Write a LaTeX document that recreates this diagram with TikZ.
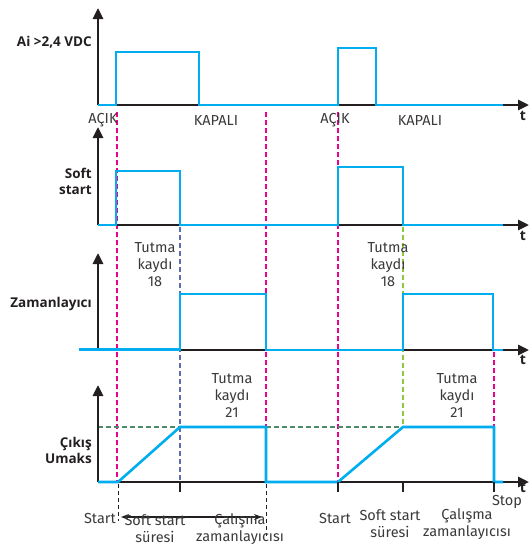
\documentclass[tikz,border=0pt]{standalone}
\usepackage{fontspec}
\setmainfont{Fira Sans}
\newfontfamily\labelfont{Open Sans}
\usetikzlibrary{arrows.meta}
\definecolor{sig}{HTML}{00AEEF}
\definecolor{mag}{HTML}{EC008C}
\definecolor{slate}{HTML}{5B6FB0}
\definecolor{lgreen}{HTML}{8DC63F}
\definecolor{dgreen}{HTML}{4E8A6A}
\definecolor{ink}{HTML}{231F20}
\definecolor{txt}{HTML}{3A3A3A}
\tikzset{
  axis/.style={ink, line width=2.6pt, -{Triangle[length=11pt,width=10pt]}},
  signal/.style={sig, line width=2.6pt, line join=miter},
  magline/.style={mag, line width=1.3pt, dash pattern=on 5pt off 3pt},
  slateline/.style={slate, line width=1.3pt, dash pattern=on 5pt off 3pt},
  lgline/.style={lgreen, line width=1.1pt, dash pattern=on 5pt off 3pt},
  dgline/.style={dgreen, line width=1.2pt, dash pattern=on 5pt off 3pt},
  blkdash/.style={ink, line width=1pt, dash pattern=on 4pt off 3pt},
  tick/.style={ink, line width=1.2pt},
  ylab/.style={anchor=east, font=\labelfont\fontsize{13.5}{16}\selectfont\bfseries, text=ink, align=right, inner sep=0pt},
  tlab/.style={font=\labelfont\fontsize{14}{16}\selectfont\bfseries, text=ink},
  note/.style={font=\fontsize{14.5}{17}\selectfont, text=txt, align=center, inner sep=0pt},
}
\begin{document}
\begin{tikzpicture}[x=1pt,y=-1pt]
\useasboundingbox (0,0) rectangle (530,547);

% guide lines behind the signals
\draw[magline] (117,112) -- (117,482);
\draw[magline] (266,112) -- (266,482);
\draw[magline] (338,112) -- (338,482);
\draw[magline] (494,352) -- (494,482);
\draw[slateline] (180,227) -- (180,482);
\draw[lgline] (403,227) -- (403,427);
\draw[dgline] (98,427) -- (180,427);
\draw[dgline] (266,427) -- (403,427);

% axes
\foreach \b/\top in {105/8, 225/127, 350/253, 482/385}{
  \draw[axis] (98,\b) -- (98,\top);
  \draw[axis] (98,\b) -- (529,\b);
}

% signals
\draw[signal] (98,105) -- (116,105) -- (116,52) -- (199,52) -- (199,105) -- (338,105) -- (338,48) -- (376,48) -- (376,105) -- (503,105);
\draw[signal] (98,225) -- (116,225) -- (116,171) -- (180,171) -- (180,225) -- (338,225) -- (338,167) -- (403,167) -- (403,225) -- (503,225);
\draw[signal] (79,349.5) -- (180,349.5) -- (180,294) -- (266,294) -- (266,350) -- (403,350) -- (403,294) -- (493,294) -- (493,350) -- (503,350);
\draw[signal] (98,482) -- (118,482) -- (180,427) -- (266,427) -- (266,482) -- (338,482) -- (403,427) -- (494,427) -- (494,482) -- (503,482);

% ticks and time markers below the output axis
\foreach \x in {180,338,403,494}{ \draw[tick] (\x,482) -- (\x,492); }
\draw[blkdash] (118,484) -- (118,521);
\draw[blkdash] (266,484) -- (266,536);
\coordinate (ssL) at (121,517);
\coordinate (ssR) at (262,517);
\draw[ink, line width=1.1pt, {Stealth[length=8pt,width=6pt]}-{Stealth[length=8pt,width=6pt]}] (ssL) -- (ssR);

% axis labels
\node[ylab] (lA) at (92,42) {Ai >2,4 VDC};
\node[ylab] (lS) at (92,181) {Soft\\start};
\node[ylab] (lZ) at (92,304) {Zamanlayıcı};
\node[ylab] (lC) at (92,450) {Çıkış\\Umaks};
\foreach \n/\y in {t1/116, t2/236, t3/360, t4/488}{ \node[tlab] (\n) at (523,\y) {t}; }

% state labels
\node[note] (a1) at (103,120) {AÇIK};
\node[note] (k1) at (216,120) {KAPALI};
\node[note] (a2) at (335,120) {AÇIK};
\node[note] (k2) at (420,121) {KAPALI};

% hold records
\node[note] (h1) at (155,265) {Tutma\\kaydı\\18};
\node[note] (h2) at (388,265) {Tutma\\kaydı\\18};
\node[note] (h3) at (232,395) {Tutma\\kaydı\\21};
\node[note] (h4) at (457,395) {Tutma\\kaydı\\21};

% time annotations
\node[note, anchor=east] (st1) at (116,518) {Start};
\node[note] (ss1) at (155,529) {Soft start\\süresi};
\node[note] (cz1) at (240,529) {Çalışma\\zamanlayıcısı};
\node[note] (st2) at (335,518) {Start};
\node[note] (ss2) at (390,524) {Soft start\\süresi};
\node[note] (cz2) at (467,524) {Çalışma\\zamanlayıcısı};
\node[note] (sp) at (507,502) {Stop};
\end{tikzpicture}
\end{document}
